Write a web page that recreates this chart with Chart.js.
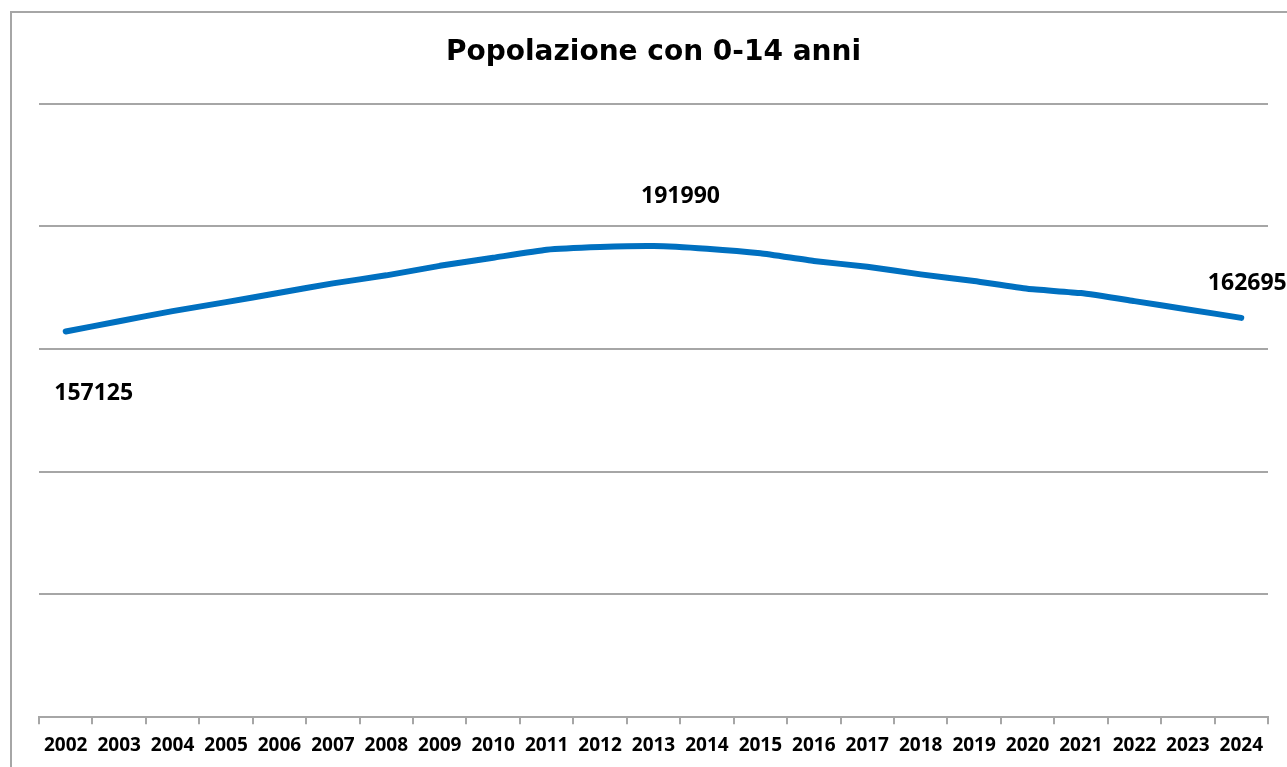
<!DOCTYPE html>
<html>
<head>
<meta charset="utf-8">
<script src="https://cdn.jsdelivr.net/npm/chart.js@4"></script>
<style>
    body { margin: 0; background: #ffffff; overflow: hidden; }
    #wrap { position: absolute; left: 0; top: 0; width: 1287px; height: 767px; }
</style>
</head>
<body>
<div id="wrap"><canvas id="popChart" width="1287" height="767"></canvas></div>
<script>
// Years on the x axis
const years = ['2002', '2003', '2004', '2005', '2006', '2007', '2008', '2009', '2010', '2011', '2012',
    '2013', '2014', '2015', '2016', '2017', '2018', '2019', '2020', '2021', '2022', '2023', '2024'];

// Population aged 0-14 (labelled ones are exact)
const population = [157125, 161350, 165440, 169120, 172920, 176760, 180030, 183900, 187200, 190480, 191580,
    191990, 190890, 189010, 185870, 183540, 180430, 177700, 174550, 172790, 169530, 166140, 162695];

// Points that carry a value label: first, highest, last
const labelledPoints = [0, 11, 22];

// Frame round the chart, like the spreadsheet chart box
const framePlugin = {
    id: 'frame',
    beforeDraw(chart) {
        const ctx = chart.ctx;
        ctx.save();
        ctx.strokeStyle = '#a6a6a6';
        ctx.lineWidth = 2;
        ctx.strokeRect(11, 12, 1400, 1000);
        ctx.restore();
    }
};

// Value labels next to selected points
const valueLabels = {
    id: 'valueLabels',
    afterDatasetsDraw(chart) {
        const ctx = chart.ctx;
        const meta = chart.getDatasetMeta(0);
        const offsets = { 0: [28, 62], 11: [27, -50], 22: [6, -34] };
        ctx.save();
        ctx.font = 'bold 23px "Open Sans"';
        ctx.fillStyle = '#000000';
        ctx.textAlign = 'center';
        ctx.textBaseline = 'middle';
        labelledPoints.forEach(i => {
            const pt = meta.data[i];
            const off = offsets[i] || [0, -30];
            ctx.fillText(String(population[i]), pt.x + off[0], pt.y + off[1]);
        });
        ctx.restore();
    }
};

const ctx = document.getElementById('popChart').getContext('2d');
new Chart(ctx, {
    type: 'line',
    data: {
        labels: years,
        datasets: [{
            label: 'Popolazione con 0-14 anni',
            data: population,
            borderColor: '#0070c0',
            borderWidth: 6,
            borderCapStyle: 'round',
            borderJoinStyle: 'round',
            pointRadius: 0,
            tension: 0.15,
            fill: false
        }]
    },
    options: {
        responsive: false,
        animation: false,
        layout: {
            padding: { left: 39, right: 19, top: 0, bottom: 0 }
        },
        plugins: {
            legend: { display: false },
            tooltip: { enabled: false },
            title: {
                display: true,
                text: 'Popolazione con 0-14 anni',
                color: '#000000',
                font: { family: '"DejaVu Sans"', size: 28, weight: 'bold' },
                padding: { top: 36, bottom: 34 }
            }
        },
        scales: {
            x: {
                offset: true,
                grid: {
                    offset: true,
                    drawOnChartArea: false,
                    drawTicks: true,
                    tickLength: 7,
                    color: '#a6a6a6',
                    lineWidth: 2
                },
                border: { display: true, color: '#a6a6a6', width: 2 },
                ticks: {
                    autoSkip: false,
                    maxRotation: 0,
                    minRotation: 0,
                    padding: 10,
                    color: '#000000',
                    font: { family: '"Open Sans"', size: 19, weight: 'bold' }
                }
            },
            y: {
                min: 0,
                max: 250000,
                grid: {
                    color: '#a6a6a6',
                    lineWidth: 2,
                    drawTicks: false
                },
                border: { display: false },
                ticks: { display: false, stepSize: 50000 }
            }
        }
    },
    plugins: [framePlugin, valueLabels]
});
</script>
</body>
</html>
